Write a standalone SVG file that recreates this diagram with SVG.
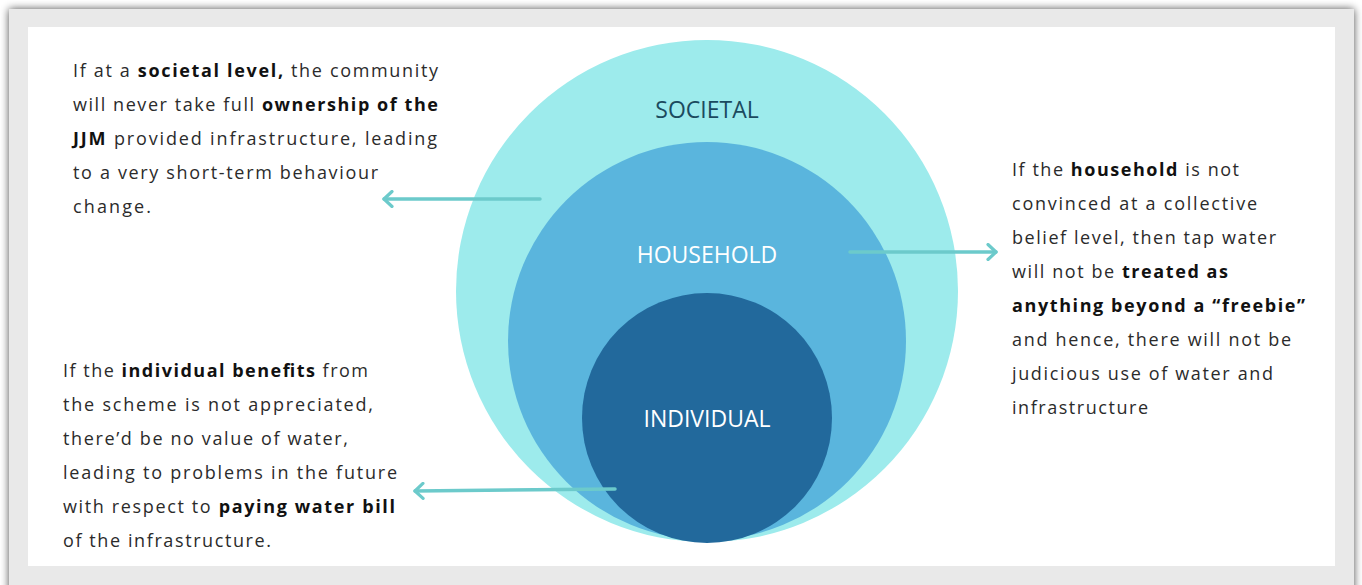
<svg xmlns="http://www.w3.org/2000/svg" width="1362" height="585" viewBox="0 0 1362 585">
  <defs>
    <filter id="frameShadow" x="-5%" y="-5%" width="110%" height="110%">
      <feGaussianBlur in="SourceAlpha" stdDeviation="4"/>
      <feOffset dx="0" dy="0"/>
      <feComponentTransfer><feFuncA type="linear" slope="0.7"/></feComponentTransfer>
      <feMerge><feMergeNode/><feMergeNode in="SourceGraphic"/></feMerge>
    </filter>
    <marker id="chev" viewBox="0 0 12 18" refX="10" refY="9" markerWidth="12" markerHeight="18" markerUnits="userSpaceOnUse" orient="auto">
      <path d="M2,1.5 L10,9 L2,16.5" fill="none" stroke="#6ccacb" stroke-width="3.2" stroke-linecap="round" stroke-linejoin="round"/>
    </marker>
  </defs>
  <style>
    .body { font-family: "Open Sans", "Liberation Sans", sans-serif; font-size: 18px; fill: #2b2b2b; }
    .b { font-weight: 700; fill: #111; }
    .lvl { font-family: "Open Sans", "Liberation Sans", sans-serif; font-size: 23px; text-anchor: middle; }
    .conn { stroke: #6ccacb; stroke-width: 3.5; fill: none; stroke-linecap: round; }
  </style>

  <!-- page frame -->
  <rect x="0" y="0" width="1362" height="585" fill="#ffffff"/>
  <rect x="9" y="9" width="1345" height="590" fill="#e9e9e9" filter="url(#frameShadow)"/>
  <rect x="28" y="27" width="1307" height="539" fill="#ffffff"/>

  <!-- nested circles -->
  <g id="societal">
    <circle cx="707" cy="291" r="251" fill="#9debec"/>
    <text class="lvl" x="707" y="118" fill="#1b4a5e">SOCIETAL</text>
  </g>
  <g id="household">
    <circle cx="707" cy="341" r="199" fill="#5ab5dd"/>
    <text class="lvl" x="707" y="263" fill="#ffffff">HOUSEHOLD</text>
  </g>
  <g id="individual">
    <circle cx="707" cy="418" r="125" fill="#22699c"/>
    <text class="lvl" x="707" y="427" fill="#ffffff">INDIVIDUAL</text>
  </g>

  <!-- connectors -->
  <g id="connectors">
    <line class="conn" x1="540" y1="199" x2="384" y2="199" marker-end="url(#chev)"/>
    <line class="conn" x1="850" y1="252" x2="996" y2="252" marker-end="url(#chev)"/>
    <line class="conn" x1="615" y1="489" x2="415" y2="491" marker-end="url(#chev)"/>
  </g>

  <!-- annotations -->
  <g id="note-societal" class="body">
    <text x="73" y="77" textLength="365" lengthAdjust="spacing">If at a <tspan class="b">societal level,</tspan> the community</text>
    <text x="73" y="111" textLength="365" lengthAdjust="spacing">will never take full <tspan class="b">ownership of the</tspan></text>
    <text x="73" y="145" textLength="364" lengthAdjust="spacing"><tspan class="b">JJM</tspan> provided infrastructure, leading</text>
    <text x="73" y="179" textLength="305" lengthAdjust="spacing">to a very short-term behaviour</text>
    <text x="73" y="213" textLength="78" lengthAdjust="spacing">change.</text>
  </g>
  <g id="note-household" class="body">
    <text x="1012" y="176" textLength="227" lengthAdjust="spacing">If the <tspan class="b">household</tspan> is not</text>
    <text x="1012" y="210" textLength="245" lengthAdjust="spacing">convinced at a collective</text>
    <text x="1012" y="244" textLength="264" lengthAdjust="spacing">belief level, then tap water</text>
    <text x="1012" y="278" textLength="216" lengthAdjust="spacing">will not be <tspan class="b">treated as</tspan></text>
    <text x="1012" y="312" textLength="293" lengthAdjust="spacing"><tspan class="b">anything beyond a “freebie”</tspan></text>
    <text x="1012" y="346" textLength="279" lengthAdjust="spacing">and hence, there will not be</text>
    <text x="1012" y="380" textLength="261" lengthAdjust="spacing">judicious use of water and</text>
    <text x="1012" y="414" textLength="136" lengthAdjust="spacing">infrastructure</text>
  </g>
  <g id="note-individual" class="body">
    <text x="63" y="377" textLength="305" lengthAdjust="spacing">If the <tspan class="b">individual benefits</tspan> from</text>
    <text x="63" y="411" textLength="310" lengthAdjust="spacing">the scheme is not appreciated,</text>
    <text x="63" y="445" textLength="285" lengthAdjust="spacing">there’d be no value of water,</text>
    <text x="63" y="479" textLength="334" lengthAdjust="spacing">leading to problems in the future</text>
    <text x="63" y="513" textLength="332" lengthAdjust="spacing">with respect to <tspan class="b">paying water bill</tspan></text>
    <text x="63" y="547" textLength="208" lengthAdjust="spacing">of the infrastructure.</text>
  </g>
</svg>
